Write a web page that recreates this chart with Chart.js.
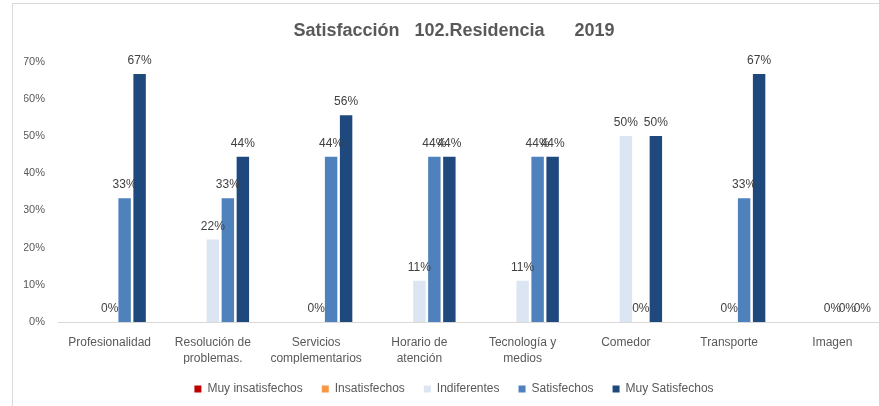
<!DOCTYPE html>
<html><head><meta charset="utf-8">
<script src="https://cdn.jsdelivr.net/npm/chart.js@4/dist/chart.umd.min.js"></script>
<style>
html,body{margin:0;padding:0;background:#fff;overflow:hidden;}
#wrap{position:absolute;left:0;top:0;width:879px;height:406px;overflow:hidden;}
#frame{position:absolute;left:12px;top:3px;width:880px;height:410px;border:1px solid #D9D9D9;box-sizing:border-box;pointer-events:none;}
</style></head>
<body>
<div id="wrap"><canvas id="c" width="884" height="406"></canvas></div>
<div id="frame"></div>
<script>
const categories = [["Profesionalidad"],["Resolución de","problemas."],["Servicios","complementarios"],["Horario de","atención"],["Tecnología y","medios"],["Comedor"],["Transporte"],["Imagen"]];
const seriesNames = ["Muy insatisfechos","Insatisfechos","Indiferentes","Satisfechos","Muy Satisfechos"];
const muyInsatisfechos = [null,null,null,null,null,null,null,null];
const insatisfechos = [null,null,null,null,null,null,null,null];
const indiferentes = [0,22.2,0,11.1,11.1,50,0,0];
const satisfechos = [33.3,33.3,44.4,44.4,44.4,0,33.3,0];
const muySatisfechos = [66.7,44.4,55.6,44.4,44.4,50,66.7,0];
const yTicks = [0,10,20,30,40,50,60,70];
const colors = ["#C00000","#F79646","#DCE6F2","#4F81BD","#1F497D"];
const FONT = "'Liberation Sans',Arial,sans-serif";

const labelPlugin = {
  id:'vlabels',
  afterDatasetsDraw(chart){
    const ctx = chart.ctx;
    ctx.save();
    ctx.font = "12px " + FONT;
    ctx.fillStyle = "#404040";
    ctx.textAlign = "center";
    ctx.textBaseline = "bottom";
    chart.data.datasets.forEach((ds,i)=>{
      const meta = chart.getDatasetMeta(i);
      meta.data.forEach((bar,j)=>{
        const v = ds.data[j];
        if (v === null || v === undefined) return;
        ctx.fillText(Math.round(v)+"%", bar.x, bar.y - 7);
      });
    });
    ctx.restore();
  }
};

const dsArr = [muyInsatisfechos,insatisfechos,indiferentes,satisfechos,muySatisfechos].map((d,i)=>({
  label: seriesNames[i], data: d, backgroundColor: colors[i],
  categoryPercentage: 0.726, barPercentage: 0.83
}));

new Chart(document.getElementById('c'), {
  type:'bar',
  data:{labels:categories, datasets:dsArr},
  plugins:[labelPlugin],
  options:{
    responsive:false, animation:false,
    layout:{padding:{left:24,right:0,top:12,bottom:1}},
    plugins:{
      title:{display:true,text:"Satisfacción   102.Residencia      2019",color:"#595959",
        font:{family:FONT,size:18,weight:'bold'},padding:{top:8,bottom:20}},
      legend:{position:'bottom',labels:{boxWidth:7,boxHeight:7,color:"#595959",font:{family:FONT,size:12},padding:19}},
      tooltip:{enabled:false}
    },
    scales:{
      x:{grid:{display:false},border:{display:true,color:"#D9D9D9"},
        afterFit(s){s.height -= 8;},
        ticks:{color:"#595959",font:{family:FONT,size:12,lineHeight:1.33},maxRotation:0,autoSkip:false,padding:5}},
      y:{min:0,max:70,grid:{display:false,drawTicks:false},border:{display:false},
        afterFit(s){s.width=34;},
        afterBuildTicks(s){s.ticks = yTicks.map(v=>({value:v}));},
        ticks:{color:"#595959",font:{family:FONT,size:11},callback:v=>v+"%",padding:13}}
    }
  }
});
</script>
</body></html>
